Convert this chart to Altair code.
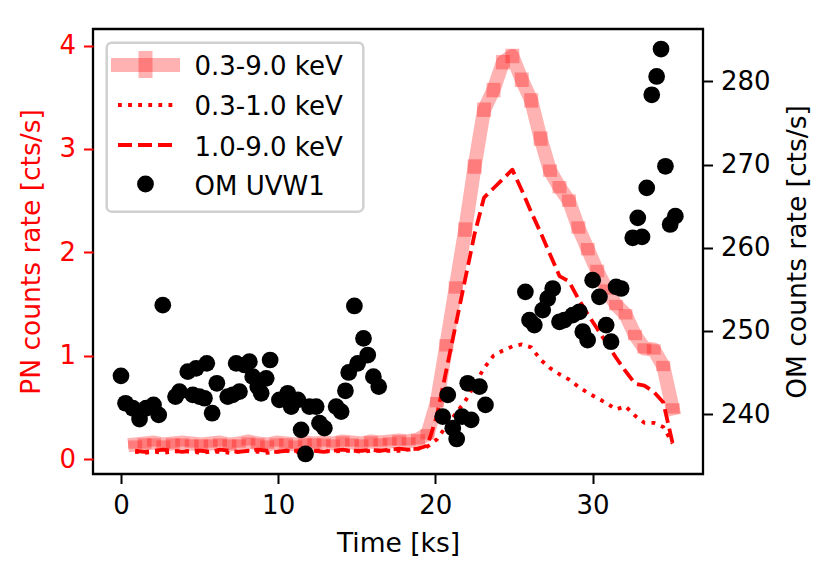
import altair as alt
import pandas as pd

# ---------------- data ----------------
pn_time = [0.9, 1.5, 2.1, 2.7, 3.3, 3.9, 4.5, 5.1, 5.7, 6.3, 6.9, 7.5, 8.1, 8.7, 9.3, 9.9,
           10.5, 11.1, 11.7, 12.3, 12.9, 13.5, 14.1, 14.7, 15.3, 15.9, 16.5, 17.1, 17.7, 18.3,
           18.9, 19.5, 20.1, 20.7, 21.3, 21.9, 22.5, 23.1, 23.7, 24.3, 24.9, 25.5, 26.1, 26.7,
           27.3, 27.9, 28.5, 29.1, 29.7, 30.3, 30.9, 31.5, 32.1, 32.7, 33.3, 33.9, 34.5, 35.1]

pn_total = [0.14, 0.15, 0.16, 0.14, 0.15, 0.16, 0.15, 0.14, 0.15, 0.16, 0.14, 0.15, 0.17, 0.15,
            0.14, 0.16, 0.15, 0.14, 0.16, 0.15, 0.16, 0.15, 0.17, 0.16, 0.15, 0.17, 0.16, 0.17,
            0.18, 0.17, 0.19, 0.24,
            0.55, 1.10, 1.66, 2.22, 2.83, 3.38, 3.57, 3.84, 3.90, 3.67, 3.47, 3.10, 2.79, 2.63,
            2.50, 2.24, 2.03, 1.82, 1.64, 1.49, 1.40, 1.20, 1.07, 1.06, 0.90, 0.49]

pn_total_err = [0.04, 0.05, 0.04, 0.04, 0.05, 0.04, 0.04, 0.05, 0.04, 0.04, 0.05, 0.04, 0.04, 0.05,
                0.04, 0.04, 0.05, 0.04, 0.04, 0.05, 0.04, 0.04, 0.05, 0.04, 0.04, 0.05, 0.04, 0.04,
                0.05, 0.04, 0.05, 0.05,
                0.05, 0.06, 0.06, 0.07, 0.07, 0.07, 0.07, 0.07, 0.07, 0.07, 0.07, 0.07, 0.06, 0.06,
                0.06, 0.06, 0.06, 0.06, 0.05, 0.05, 0.05, 0.05, 0.05, 0.05, 0.05, 0.05]

pn_soft = [0.07, 0.06, 0.07, 0.06, 0.07, 0.08, 0.07, 0.06, 0.07, 0.07, 0.06, 0.07, 0.08, 0.07,
           0.06, 0.07, 0.08, 0.07, 0.07, 0.08, 0.08, 0.07, 0.08, 0.08, 0.07, 0.08, 0.08, 0.08,
           0.08, 0.09, 0.10, 0.12,
           0.19, 0.32, 0.44, 0.56, 0.72, 0.88, 1.00, 1.05, 1.09, 1.11, 1.08, 0.96, 0.88, 0.82,
           0.77, 0.70, 0.64, 0.59, 0.54, 0.48, 0.51, 0.42, 0.35, 0.35, 0.31, 0.15]

pn_hard = [0.08, 0.07, 0.08, 0.09, 0.08, 0.07, 0.08, 0.08, 0.07, 0.09, 0.08, 0.07, 0.08, 0.09,
           0.08, 0.07, 0.08, 0.08, 0.09, 0.08, 0.07, 0.08, 0.09, 0.08, 0.08, 0.09, 0.08, 0.09,
           0.10, 0.09, 0.10, 0.13,
           0.42, 0.86, 1.30, 1.74, 2.18, 2.53, 2.62, 2.71, 2.80, 2.60, 2.39, 2.19, 1.98, 1.77,
           1.72, 1.55, 1.40, 1.26, 1.12, 0.98, 0.85, 0.73, 0.71, 0.65, 0.55, 0.15]

om_time = [0.00, 0.29, 0.75, 1.18, 1.60, 2.07, 2.40, 2.66, 3.47, 3.72, 4.25, 4.57, 4.78, 4.99,
           5.31, 5.46, 5.80, 6.10, 6.79, 7.11, 7.33, 7.54, 7.86, 8.17, 8.38, 8.70, 8.92, 9.24,
           9.49, 10.08, 10.61, 10.83, 11.25, 11.46, 11.74, 11.99, 12.42, 12.63, 12.94, 13.69,
           14.01, 14.28, 14.49, 14.85, 15.06, 15.43, 15.70, 16.06, 16.40,
           20.47, 20.79, 21.11, 21.36, 21.70, 22.06, 22.28, 22.81, 23.19,
           25.73, 25.99, 26.30, 26.83, 27.15, 27.47, 27.90, 28.21, 28.74, 29.17, 29.38, 29.69,
           30.01, 30.44, 30.87, 31.18, 31.50, 31.82,
           32.56, 32.88, 33.15, 33.45, 33.77, 34.08, 34.36, 34.64, 34.94, 35.27]

om_rate = [244.6, 241.3, 240.7, 239.4, 240.7, 241.1, 239.9, 253.1, 242.1, 242.7, 245.1, 242.3,
           245.5, 242.1, 241.9, 246.1, 240.1, 243.7, 242.1, 242.3, 246.1, 242.7, 245.9, 246.3,
           244.5, 243.3, 242.5, 244.3, 246.5, 241.7, 242.5, 240.9, 241.7, 238.1, 235.2, 240.9,
           240.9, 238.9, 238.3, 240.9, 240.3, 242.8, 245.0, 253.0, 246.1, 249.1, 247.1, 244.5,
           243.3,
           239.7, 242.3, 238.3, 237.0, 239.7, 243.7, 239.3, 243.3, 241.1,
           254.7, 251.3, 250.7, 252.5, 253.9, 255.1, 251.1, 251.3, 251.9, 252.3, 249.9, 248.9,
           256.1, 254.1, 250.7, 248.7, 255.3, 255.1,
           261.2, 263.6, 261.3, 267.2, 278.4, 280.6, 283.9, 269.8, 262.8, 263.8]

legend_labels = ["0.3-9.0 keV", "0.3-1.0 keV", "1.0-9.0 keV", "OM UVW1"]
x_ticks = [0, 10, 20, 30]
pn_ticks = [0, 1, 2, 3, 4]
om_ticks = [240, 250, 260, 270, 280]

# ---------------- tables ----------------
pn = pd.DataFrame({"t": pn_time, "total": pn_total, "err": pn_total_err,
                   "soft": pn_soft, "hard": pn_hard})
pn["lo"] = pn["total"] - pn["err"]
pn["hi"] = pn["total"] + pn["err"]
om = pd.DataFrame({"t": om_time, "rate": om_rate})
one = pd.DataFrame({"k": [0]})

FONT = "DejaVu Sans"
W, H = 610, 445
FS = 26

x_scale = alt.Scale(domain=[-1.78, 37.03], nice=False, zero=False)
yl_scale = alt.Scale(domain=[-0.145, 4.161], nice=False, zero=False)
yr_scale = alt.Scale(domain=[232.79, 286.31], nice=False, zero=False)

x_axis = alt.Axis(values=x_ticks, format="d", title="Time [ks]", labelFlush=False,
                  titleX=W / 2, titleY=77, titleAlign="center", titleBaseline="alphabetic",
                  labelPadding=9)
x_enc = alt.X("t:Q", scale=x_scale, axis=x_axis)

left_axis = alt.Axis(values=pn_ticks, format="d", title="PN counts rate [cts/s]",
                     labelColor="red", tickColor="red", titleColor="red",
                     titleAngle=270, titleX=-54, titleY=H / 2, titleAlign="center",
                     titleBaseline="alphabetic")
right_axis = alt.Axis(orient="right", values=om_ticks, format="d",
                      title="OM counts rate [cts/s]", titleAngle=270, titleX=102,
                      titleY=H / 2, titleAlign="center", titleBaseline="alphabetic")

thick = alt.Chart(pn).mark_line(color="red", opacity=0.3, strokeWidth=14,
                                strokeCap="square", strokeJoin="round").encode(
    x=x_enc, y=alt.Y("total:Q", scale=yl_scale, axis=left_axis))
errs = alt.Chart(pn).mark_rule(color="red", opacity=0.3, strokeWidth=14).encode(
    x=x_enc, y=alt.Y("lo:Q", scale=yl_scale), y2="hi:Q")
dotted = alt.Chart(pn).mark_line(color="red", strokeWidth=3.8, strokeDash=[3.8, 6.3],
                                 strokeJoin="round").encode(
    x=x_enc, y=alt.Y("soft:Q", scale=yl_scale))
dashed = alt.Chart(pn).mark_line(color="red", strokeWidth=3.8, strokeDash=[14, 6],
                                 strokeJoin="round").encode(
    x=x_enc, y=alt.Y("hard:Q", scale=yl_scale))

left = alt.layer(thick, errs, dotted, dashed)

points = alt.Chart(om).mark_circle(color="black", opacity=1, size=280).encode(
    x=x_enc, y=alt.Y("rate:Q", scale=yr_scale, axis=right_axis))

# ---------------- legend (drawn inside the plot, upper left) ----------------
box = alt.Chart(one).mark_rect(fill="white", fillOpacity=0.8, stroke="#d0d0d0",
                               strokeWidth=2.5, cornerRadius=5).encode(
    x=alt.value(13.7), x2=alt.value(270.3), y=alt.value(13.7), y2=alt.value(182.7))
lg_thick = alt.Chart(one).mark_rule(color="red", opacity=0.3, strokeWidth=14,
                                    strokeCap="square").encode(
    x=alt.value(25), x2=alt.value(80), y=alt.value(36))
lg_bar = alt.Chart(one).mark_rule(color="red", opacity=0.3, strokeWidth=14).encode(
    x=alt.value(52.5), y=alt.value(22), y2=alt.value(49))
lg_dot = alt.Chart(one).mark_rule(color="red", strokeWidth=3.8, strokeDash=[3.8, 6.3]).encode(
    x=alt.value(25), x2=alt.value(80), y=alt.value(76))
lg_dash = alt.Chart(one).mark_rule(color="red", strokeWidth=3.8, strokeDash=[14, 6]).encode(
    x=alt.value(25), x2=alt.value(80), y=alt.value(116))
lg_pt = alt.Chart(one).mark_circle(color="black", opacity=1, size=283).encode(
    x=alt.value(52.5), y=alt.value(155))
lg_texts = [
    alt.Chart(one).mark_text(align="left", baseline="alphabetic", font=FONT, fontSize=FS,
                             color="black").encode(
        x=alt.value(101.5), y=alt.value(yy), text=alt.value(lab))
    for lab, yy in zip(legend_labels, [46, 86, 126.5, 166])
]
legend = alt.layer(box, lg_thick, lg_bar, lg_dot, lg_dash, lg_pt, *lg_texts)

chart = alt.layer(left, points, legend).resolve_scale(y="independent").properties(
    width=W, height=H,
    autosize=alt.AutoSizeParams(type="none"),
    padding={"left": 85, "top": 21, "right": 115, "bottom": 90},
).configure_view(
    stroke="black", strokeWidth=2.3
).configure_axis(
    grid=False, domain=False, labelFont=FONT, titleFont=FONT, labelFontSize=FS,
    titleFontSize=FS + 0.5, titleFontWeight="normal", tickSize=9.5, tickWidth=2,
    labelPadding=8, labelColor="black", titleColor="black", tickColor="black"
)

chart.save("out.html", embed_options={"renderer": "svg", "actions": False})
